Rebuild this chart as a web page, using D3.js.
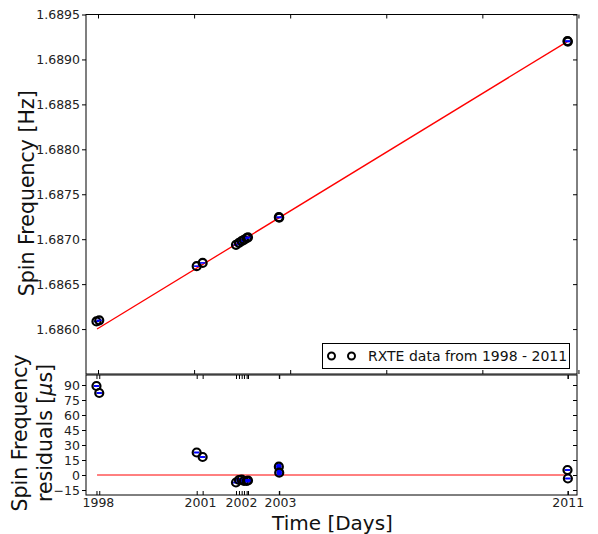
<!DOCTYPE html>
<html>
<head>
<meta charset="UTF-8" />
<script src="https://d3js.org/d3.v7.min.js"></script>
<style>
  body { margin: 0; background: #fff; }
  text { font-family: "DejaVu Sans", sans-serif; }
</style>
</head>
<body>
<div id="chart"></div>
<script>
// observation times (MJD), spin frequency (Hz), timing residuals (microseconds)
const obsTimes = [50984, 51013, 52027, 52089, 52436, 52467, 52495, 52519, 52547, 52561, 52882, 52886, 55886, 55890]
const spinFreq = [1.686085, 1.686097, 1.686700, 1.686736, 1.686937, 1.686960, 1.686979, 1.686993,
                  1.687012, 1.687021, 1.687245, 1.687241, 1.689205, 1.689199]
const residuals = [89, 82, 22.5, 18, -7.5, -5, -4.5, -6, -6, -5.5, 8.3, 2.3, 5, -3.5]
const residualErr = [0.5, 0.5, 0.5, 0.5, 0.8, 1.5, 1.5, 1.5, 1.5, 1.5, 3, 3, 0.8, 0.8]
// linear spin-up fit: [time, frequency]
const fitLine = [[50990, 1.686000], [55888, 1.689201]]
// year labels on the time axis
const yearTickTimes = [50999, 52061, 52488, 52894, 55888]
const yearTickLabels = ['1998', '2001', '2002', '2003', '2011']
const freqTicks = [1.6860, 1.6865, 1.6870, 1.6875, 1.6880, 1.6885, 1.6890, 1.6895]
const resTicks = [-15, 0, 15, 30, 45, 60, 75, 90]
const topXTicks = [51000, 52000, 53000, 54000, 55000, 56000]

const W = 598, H = 534
const left = 86, right = 577
const top1 = 14.5, bot1 = 374
const top2 = 375, bot2 = 495

const svg = d3.select('#chart').append('svg')
  .attr('width', W).attr('height', H)

const x = d3.scaleLinear().domain([50875, 55985]).range([left, right])
const yTop = d3.scaleLinear().domain([1.6855, 1.6895]).range([bot1, top1])
const yRes = d3.scaleLinear().domain([-20, 100]).range([bot2, top2])

function styleAxis(g) {
  g.select('.domain').remove()
  g.selectAll('line').attr('stroke', '#000')
  g.selectAll('text').style('font-size', '12.5px').attr('fill', '#222')
}

// ---------- top panel ----------
const gTop = svg.append('g')

gTop.append('line')
  .attr('x1', x(fitLine[0][0])).attr('y1', yTop(fitLine[0][1]))
  .attr('x2', x(fitLine[1][0])).attr('y2', yTop(fitLine[1][1]))
  .attr('stroke', 'red').attr('stroke-width', 1.3)

gTop.append('g').attr('transform', `translate(${left},0)`)
  .call(d3.axisLeft(yTop).tickValues(freqTicks).tickSize(4).tickPadding(2).tickFormat(d3.format('.4f')))
  .call(styleAxis)
gTop.append('g').attr('transform', `translate(${right},0)`)
  .call(d3.axisRight(yTop).tickValues(freqTicks).tickSize(-4).tickFormat(''))
  .call(styleAxis)
gTop.append('g').attr('transform', `translate(0,${top1})`)
  .call(d3.axisTop(x).tickValues(topXTicks).tickSize(-4).tickFormat(''))
  .call(styleAxis)
gTop.append('g').attr('transform', `translate(0,${bot1})`)
  .call(d3.axisBottom(x).tickValues(topXTicks).tickSize(-4).tickFormat(''))
  .call(styleAxis)

function drawPoints(g, ys, withErr) {
  const pts = g.selectAll(null).data(obsTimes).join('g')
    .attr('transform', (d, i) => `translate(${x(d)},${ys(i)})`)
  pts.append('line').attr('x1', -2.6).attr('x2', 2.6).attr('y1', 0).attr('y2', 0)
    .attr('stroke', 'blue').attr('stroke-width', 1.6)
  if (withErr) {
    pts.append('rect')
      .attr('x', -2.6).attr('width', 5.2)
      .attr('y', (d, i) => -Math.max(0.8, yRes(0) - yRes(residualErr[i])))
      .attr('height', (d, i) => 2 * Math.max(0.8, yRes(0) - yRes(residualErr[i])))
      .attr('fill', 'blue')
  }
  pts.append('circle').attr('r', 4)
    .attr('fill', 'none').attr('stroke', '#000').attr('stroke-width', 2.2)
}

drawPoints(gTop.append('g'), i => yTop(spinFreq[i]), false)

gTop.append('rect')
  .attr('x', left).attr('y', top1).attr('width', right - left).attr('height', bot1 - top1)
  .attr('fill', 'none').attr('stroke', '#000').attr('stroke-width', 1)

// legend
const leg = gTop.append('g')
leg.append('rect').attr('x', 322.5).attr('y', 343.5).attr('width', 247).attr('height', 25)
  .attr('fill', '#fff').attr('stroke', '#000').attr('stroke-width', 1)
leg.selectAll(null).data([331.5, 351.5]).join('circle')
  .attr('cx', d => d).attr('cy', 356).attr('r', 3.5)
  .attr('fill', 'none').attr('stroke', '#000').attr('stroke-width', 2)
leg.append('text').attr('x', 368).attr('y', 361).style('font-size', '14px').attr('fill', '#111')
  .text('RXTE data from 1998 - 2011')

gTop.append('text')
  .attr('transform', `translate(34,${(top1 + bot1) / 2 - 1}) rotate(-90)`)
  .attr('text-anchor', 'middle').style('font-size', '20.5px').attr('fill', '#111')
  .text('Spin Frequency [Hz]')

// ---------- residual panel ----------
const gRes = svg.append('g')

gRes.append('line')
  .attr('x1', x(fitLine[0][0])).attr('x2', x(fitLine[1][0]))
  .attr('y1', yRes(0)).attr('y2', yRes(0))
  .attr('stroke', 'red').attr('stroke-width', 1)

gRes.append('g').attr('transform', `translate(${left},0)`)
  .call(d3.axisLeft(yRes).tickValues(resTicks).tickSize(4).tickPadding(2))
  .call(styleAxis)
gRes.append('g').attr('transform', `translate(${right},0)`)
  .call(d3.axisRight(yRes).tickValues(resTicks).tickSize(-4).tickFormat(''))
  .call(styleAxis)
gRes.append('g').attr('transform', `translate(0,${top2})`)
  .call(d3.axisTop(x).tickValues(obsTimes).tickSize(-4).tickFormat(''))
  .call(styleAxis)
gRes.append('g').attr('transform', `translate(0,${bot2})`)
  .call(d3.axisBottom(x).tickValues(obsTimes).tickSize(-4).tickFormat(''))
  .call(styleAxis)
gRes.append('g').attr('transform', `translate(0,${bot2})`)
  .call(d3.axisBottom(x).tickValues(yearTickTimes).tickSize(0).tickPadding(3)
    .tickFormat((d, i) => yearTickLabels[i]))
  .call(styleAxis)

drawPoints(gRes.append('g'), i => yRes(residuals[i]), true)

gRes.append('rect')
  .attr('x', left).attr('y', top2).attr('width', right - left).attr('height', bot2 - top2)
  .attr('fill', 'none').attr('stroke', '#000').attr('stroke-width', 1)

const resLabel = gRes.append('text')
  .attr('transform', `translate(0,${(top2 + bot2) / 2 - 2}) rotate(-90)`)
  .attr('text-anchor', 'middle').style('font-size', '20.5px').attr('fill', '#111')
resLabel.append('tspan').attr('x', 0).attr('y', 27).text('Spin Frequency')
resLabel.append('tspan').attr('x', 0).attr('y', 52).text('residuals [')
  .append('tspan').style('font-style', 'italic').text('μ')
resLabel.select('tspan:nth-child(2)').append('tspan').text('s]')

svg.append('text')
  .attr('x', (left + right) / 2 + 1).attr('y', 530)
  .attr('text-anchor', 'middle').style('font-size', '20px').attr('fill', '#111')
  .text('Time [Days]')
</script>
</body>
</html>
